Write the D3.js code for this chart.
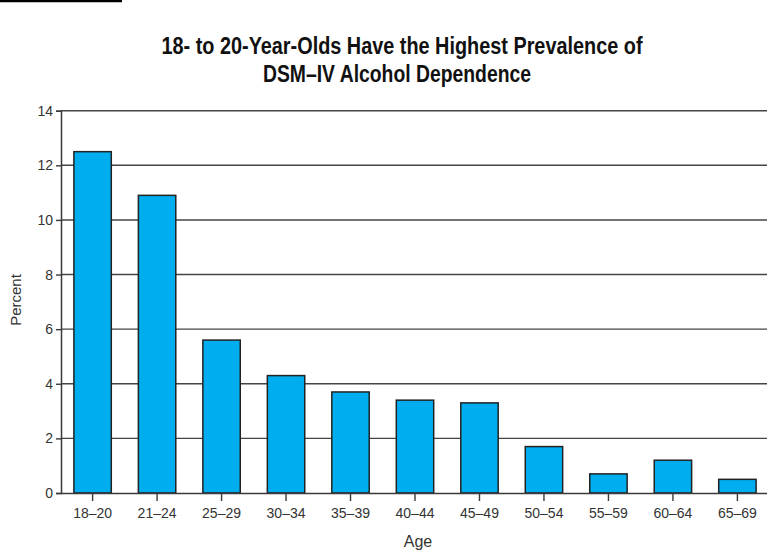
<!DOCTYPE html>
<html>
<head>
<meta charset="utf-8">
<script src="https://cdn.jsdelivr.net/npm/d3@7"></script>
<style>
  html, body { margin: 0; padding: 0; background: #fff; }
  svg { display: block; }
  text { font-family: "Liberation Sans Narrow", "Arial Narrow", "Liberation Sans", sans-serif; }
</style>
</head>
<body>
<svg id="chart" width="767" height="554"></svg>
<script>
const categories = ["18\u201320","21\u201324","25\u201329","30\u201334","35\u201339","40\u201344","45\u201349","50\u201354","55\u201359","60\u201364","65\u201369"];
const values = [12.5, 10.9, 5.6, 4.3, 3.7, 3.4, 3.3, 1.7, 0.7, 1.2, 0.5];
const yTicks = [0, 2, 4, 6, 8, 10, 12, 14];
const titleLines = ["18- to 20-Year-Olds Have the Highest Prevalence of", "DSM\u2013IV Alcohol Dependence"];
const yLabel = "Percent";
const xLabel = "Age";

(function () {
const svg = d3.select("#chart");
const W = 767;
const plotLeft = 61, plotRight = 769, plotTop = 110.7, plotBottom = 493;

const x = d3.scaleBand().domain(categories).range([plotLeft, plotRight]).paddingInner(0.42).paddingOuter(0.2);
const y = d3.scaleLinear().domain([0, 14]).range([plotBottom, plotTop]);

// top-left black rule
svg.append("line").attr("x1", 0).attr("x2", 122).attr("y1", 1).attr("y2", 1)
  .attr("stroke", "#000").attr("stroke-width", 2.5);

// title
const tl = svg.append("g");
tl.append("text").attr("x", 402).attr("y", 54).attr("text-anchor", "middle")
  .attr("font-size", 23.5).attr("font-weight", "bold").attr("fill", "#111")
  .attr("textLength", 481).attr("lengthAdjust", "spacingAndGlyphs").text(titleLines[0]);
tl.append("text").attr("x", 397).attr("y", 82).attr("text-anchor", "middle")
  .attr("font-size", 23.5).attr("font-weight", "bold").attr("fill", "#111")
  .attr("textLength", 268).attr("lengthAdjust", "spacingAndGlyphs").text(titleLines[1]);

// gridlines
svg.append("g").selectAll("line").data(yTicks.filter(d => d > 0)).join("line")
  .attr("x1", plotLeft).attr("x2", W).attr("y1", d => y(d)).attr("y2", d => y(d))
  .attr("stroke", "#444").attr("stroke-width", 1.4);

// y axis
const yAxis = svg.append("g").attr("transform", `translate(${plotLeft},0)`)
  .call(d3.axisLeft(y).tickValues(yTicks).tickSize(5).tickPadding(3).tickFormat(d3.format("d")));
yAxis.select(".domain").attr("stroke", "#3a3a3a").attr("stroke-width", 1.5);
yAxis.selectAll(".tick line").attr("stroke", "#3a3a3a").attr("stroke-width", 1.4);
yAxis.selectAll(".tick text").attr("font-size", 14).attr("fill", "#333")
  .attr("font-family", "'Liberation Sans Narrow', 'Liberation Sans', sans-serif");

// bars
svg.append("g").selectAll("rect").data(values).join("rect")
  .attr("x", (d, i) => x(categories[i]))
  .attr("y", d => y(d))
  .attr("width", x.bandwidth())
  .attr("height", d => plotBottom - y(d))
  .attr("fill", "#00aeef")
  .attr("stroke", "#222").attr("stroke-width", 1.5);

// x axis
const xAxis = svg.append("g").attr("transform", `translate(0,${plotBottom})`)
  .call(d3.axisBottom(x).tickSize(8).tickPadding(7).tickSizeOuter(0));
xAxis.select(".domain").attr("stroke", "#3a3a3a").attr("stroke-width", 1.5)
  .attr("d", `M${plotLeft},0.5H${W}`);
xAxis.selectAll(".tick line").attr("stroke", "#3a3a3a").attr("stroke-width", 1.4);
xAxis.selectAll(".tick text").attr("font-size", 14).attr("fill", "#333")
  .attr("font-family", "'Liberation Sans Narrow', 'Liberation Sans', sans-serif");

// axis labels
svg.append("text").attr("transform", "translate(21,300) rotate(-90)")
  .attr("text-anchor", "middle").attr("font-size", 15).attr("fill", "#333").text(yLabel);
svg.append("text").attr("x", 418).attr("y", 547).attr("text-anchor", "middle")
  .attr("font-size", 16).attr("fill", "#333").text(xLabel);
})();
</script>
</body>
</html>
